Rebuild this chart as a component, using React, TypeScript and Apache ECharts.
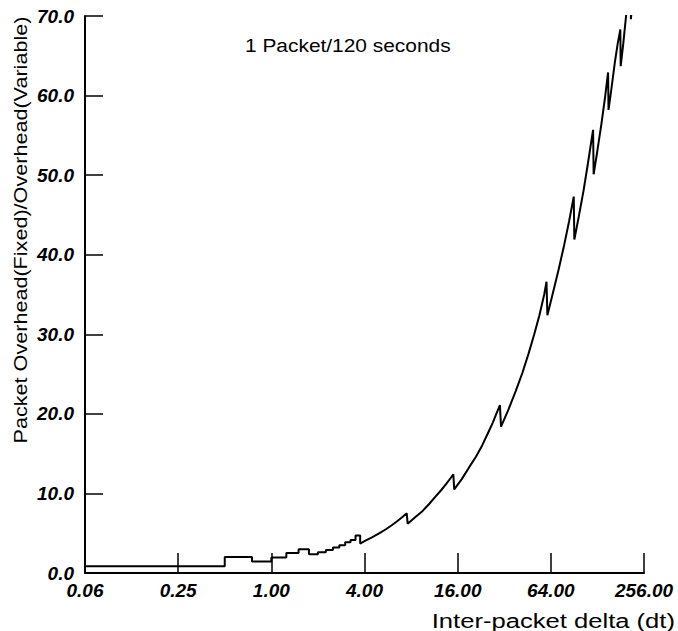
import React, { useEffect, useRef } from "react";
import * as echarts from "echarts";

// Inter-packet delta (dt)
const dtValues = [
  0.0625, 0.5, 0.5, 0.75, 0.75, 1.0, 1.0, 1.25, 1.25, 1.5, 1.5, 1.75, 1.75, 2.0, 2.0, 2.25, 2.25, 2.5, 2.5, 2.75,
  2.75, 3.0, 3.0, 3.25, 3.25, 3.5, 3.5, 3.75, 3.75,
  4.0, 4.5, 5.0, 5.5, 6.0, 6.5, 7.0, 7.5,
  7.6, 8.5, 9.5, 10.5, 11.5, 12.5, 13.5, 14.5, 15.0,
  15.2, 17, 19, 21, 23, 25, 27, 29, 30,
  30.5, 34, 38, 42, 46, 50, 54, 58, 60,
  60.8, 66, 72, 78, 84, 90,
  90.8, 97, 104, 111, 120,
  121, 128, 136, 143, 150,
  151, 158, 166, 173, 180,
  181, 188, 196, 205, 210,
  210.6, 213,
];

// Packet Overhead(Fixed)/Overhead(Variable)
const overheadValues = [
  0.85, 0.85, 2.0, 2.0, 1.45, 1.45, 1.95, 1.95, 2.5, 2.5, 3.0, 3.0, 2.35, 2.35, 2.6, 2.6, 2.9, 2.9, 3.2, 3.2,
  3.5, 3.5, 3.85, 3.85, 4.15, 4.15, 4.7, 4.7, 3.7,
  4.0, 4.5, 5.0, 5.5, 6.0, 6.5, 7.0, 7.5,
  6.2, 7.0, 7.8, 8.7, 9.6, 10.4, 11.2, 12.0, 12.4,
  10.5, 11.8, 13.3, 14.6, 16.0, 17.5, 18.9, 20.4, 21.1,
  18.4, 20.5, 22.9, 25.2, 27.6, 30.0, 32.4, 35.0, 36.6,
  32.4, 35.2, 38.2, 41.2, 44.2, 47.3,
  41.9, 44.8, 48.0, 51.4, 55.7,
  50.1, 53.1, 56.5, 59.6, 62.9,
  58.2, 61.0, 64.2, 66.5, 68.3,
  63.7, 66.5, 70.0, 73.0, 75.0,
  69.6, 70.6,
];

const xTickLabels = ["0.06", "0.25", "1.00", "4.00", "16.00", "64.00", "256.00"];

const annotationText = "1 Packet/120 seconds";
const xAxisTitle = "Inter-packet delta (dt)";
const yAxisTitle = "Packet Overhead(Fixed)/Overhead(Variable)";

const FONT = '"Liberation Sans", Arial, Helvetica, sans-serif';

export default function App() {
  const ref = useRef<HTMLDivElement>(null);

  useEffect(() => {
    if (!ref.current) return;
    const chart = echarts.init(ref.current, null, { renderer: "svg" });
    const data = dtValues.map((x, i) => [x, overheadValues[i]]);
    const labelStyle = {
      fontFamily: FONT,
      fontStyle: "italic" as const,
      fontWeight: "bold" as const,
      fontSize: 19,
      color: "#000",
    };
    chart.setOption({
      animation: false,
      backgroundColor: "#ffffff",
      grid: { left: 85, right: 34, top: 16, bottom: 58, containLabel: false },
      xAxis: {
        type: "log",
        logBase: 4,
        min: 0.0625,
        max: 256,
        splitNumber: 6,
        axisLine: { show: true, lineStyle: { color: "#000", width: 2 } },
        axisTick: { show: true, inside: true, length: 20, lineStyle: { color: "#000", width: 1.5 } },
        axisLabel: {
          ...labelStyle,
          margin: 8,
          showMinLabel: true,
          showMaxLabel: true,
          formatter: (v: number) => {
            const idx = Math.round(Math.log(v / 0.0625) / Math.log(4));
            return xTickLabels[idx] ?? "";
          },
        },
        splitLine: { show: false },
        minorTick: { show: false },
      },
      yAxis: {
        type: "value",
        min: 0,
        max: 70,
        interval: 10,
        axisLine: { show: true, lineStyle: { color: "#000", width: 2 } },
        axisTick: { show: true, inside: true, length: 18, lineStyle: { color: "#000", width: 1.5 } },
        axisLabel: {
          ...labelStyle,
          margin: 11,
          formatter: (v: number) => v.toFixed(1),
        },
        splitLine: { show: false },
      },
      series: [
        {
          type: "line",
          data,
          symbol: "none",
          showSymbol: false,
          clip: true,
          lineStyle: { color: "#000", width: 2 },
        },
      ],
      graphic: [
        {
          type: "text",
          x: 245,
          y: 45,
          scaleX: 1.1,
          style: {
            text: annotationText,
            font: `19px ${FONT}`,
            fill: "#000",
            textAlign: "left",
            align: "left",
            textVerticalAlign: "middle",
            verticalAlign: "middle",
          },
        },
        {
          type: "text",
          x: 675,
          y: 621,
          scaleX: 1.28,
          style: {
            text: xAxisTitle,
            font: `20px ${FONT}`,
            fill: "#000",
            textAlign: "right",
            align: "right",
            textVerticalAlign: "middle",
            verticalAlign: "middle",
          },
        },
        {
          type: "text",
          x: 21,
          y: 230,
          rotation: Math.PI / 2,
          scaleX: 1.2,
          style: {
            text: yAxisTitle,
            font: `18px ${FONT}`,
            fill: "#000",
            textAlign: "center",
            align: "center",
            textVerticalAlign: "middle",
            verticalAlign: "middle",
          },
        },
      ],
    });
    return () => chart.dispose();
  }, []);

  return (
    <div
      ref={ref}
      style={{ position: "fixed", left: 0, top: 0, width: 678, height: 631, background: "#fff" }}
    />
  );
}
